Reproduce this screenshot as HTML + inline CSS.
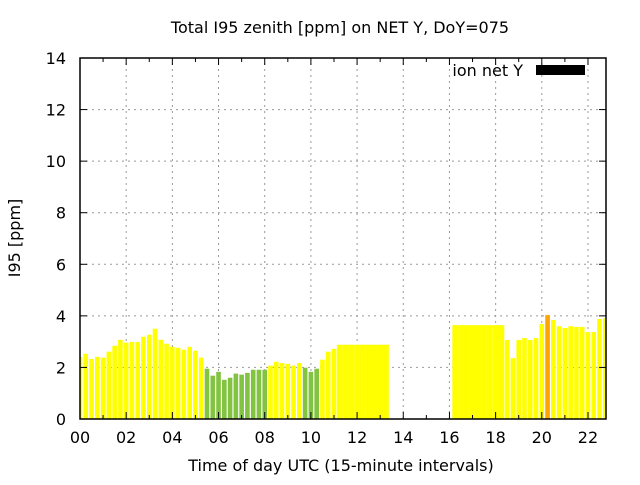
<!DOCTYPE html>
<html><head><meta charset="utf-8"><style>
body{margin:0;background:#fff;width:640px;height:480px;overflow:hidden}
svg{font-family:"DejaVu Sans","Liberation Sans",sans-serif}
</style></head><body>
<svg id="chart" width="640" height="480" viewBox="0 0 640 480" xmlns="http://www.w3.org/2000/svg">
<rect width="640" height="480" fill="#fff"/>
<g id="grid"></g><g id="bars"></g><g id="axes"></g>
<text x="340" y="33" text-anchor="middle" font-size="16">Total I95 zenith [ppm] on NET Y, DoY=075</text>
<text x="341" y="471" text-anchor="middle" font-size="16">Time of day UTC (15-minute intervals)</text>
<text transform="translate(20,238) rotate(-90)" text-anchor="middle" font-size="16">I95 [ppm]</text>
<g>
<text x="523" y="76" text-anchor="end" font-size="16">ion net Y</text>
<rect x="536" y="65" width="49" height="10" fill="#000"/>
</g>
</svg>
<script>
const times=[0,0.25,0.5,0.75,1,1.25,1.5,1.75,2,2.25,2.5,2.75,3,3.25,3.5,3.75,4,4.25,4.5,4.75,5,5.25,5.5,5.75,6,6.25,6.5,6.75,7,7.25,7.5,7.75,8,8.25,8.5,8.75,9,9.25,9.5,9.75,10,10.25,10.5,10.75,11,11.25,11.5,11.75,12,12.25,12.5,12.75,13,13.25,16.25,16.5,16.75,17,17.25,17.5,17.75,18,18.25,18.5,18.75,19,19.25,19.5,19.75,20,20.25,20.5,20.75,21,21.25,21.5,21.75,22,22.25,22.5,22.75];
const values=[2.41,2.53,2.33,2.41,2.38,2.61,2.84,3.07,2.96,2.99,2.99,3.19,3.27,3.5,3.07,2.92,2.8,2.76,2.69,2.8,2.65,2.38,1.95,1.68,1.83,1.52,1.6,1.76,1.72,1.79,1.91,1.91,1.91,2.07,2.22,2.17,2.14,2.07,2.17,1.99,1.83,1.95,2.3,2.61,2.72,2.88,2.88,2.88,2.88,2.88,2.88,2.88,2.88,2.88,3.64,3.64,3.64,3.64,3.64,3.64,3.64,3.64,3.64,3.06,2.36,3.06,3.14,3.06,3.14,3.68,4.03,3.84,3.6,3.53,3.6,3.57,3.57,3.37,3.37,3.88,3.91];
const colorCodes=["y","y","y","y","y","y","y","y","y","y","y","y","y","y","y","y","y","y","y","y","y","y","g","g","g","g","g","g","g","g","g","g","g","y","y","y","y","y","y","g","g","g","y","y","y","y","y","y","y","y","y","y","y","y","y","y","y","y","y","y","y","y","y","y","y","y","y","y","y","y","o","y","y","y","y","y","y","y","y","y","y"];
const filled=[11.25,11.5,11.75,12,12.25,12.5,12.75,13,13.25,16.25,16.5,16.75,17,17.25,17.5,17.75,18,18.25];
const xTicks=["00","02","04","06","08","10","12","14","16","18","20","22"];
const yTicks=["0","2","4","6","8","10","12","14"];
const X0=80,X1=606,Y0=419,Y1=58,PXH=23.09,YMAX=14;
const xs=t=>X0+t*PXH, ys=v=>Y0-v*(Y0-Y1)/YMAX;
const NS="http://www.w3.org/2000/svg";
function mk(tag,attrs,parent){const e=document.createElementNS(NS,tag);for(const k in attrs)e.setAttribute(k,attrs[k]);parent.appendChild(e);return e;}
const grid=document.getElementById('grid'),bars=document.getElementById('bars'),axes=document.getElementById('axes');
const col={y:"#ffff00",g:"#82c341",o:"#ffa500"};
times.forEach((t,i)=>{
  const full=filled.includes(t);
  const w=(full?1.0:0.8)*PXH/4;
  let l=xs(t)-w/2,r=xs(t)+w/2;
  l=Math.max(l,X0);r=Math.min(r,X1);
  const b=mk('rect',{x:l,y:ys(values[i]),width:r-l,height:Y0-ys(values[i]),fill:col[colorCodes[i]]},bars);
  
  
});
xTicks.forEach(s=>{
  const x=xs(parseInt(s,10));
  if(x>X0+1){const g=mk('line',{x1:x,y1:Y0,x2:x,y2:Y1,stroke:"#999","stroke-dasharray":"2,4"},grid);
  }
  mk('line',{x1:x,y1:Y0,x2:x,y2:Y0-7,stroke:"#000"},axes);
  mk('line',{x1:x,y1:Y1,x2:x,y2:Y1+7,stroke:"#000"},axes);
  const tx=mk('text',{x:x,y:443,"text-anchor":"middle","font-size":"16"},axes);
  tx.textContent=s;
  
});
for(let h=1;h<23;h+=2){const x=xs(h);mk('line',{x1:x,y1:Y0,x2:x,y2:Y0-4,stroke:"#000"},axes);mk('line',{x1:x,y1:Y1,x2:x,y2:Y1+4,stroke:"#000"},axes);}
yTicks.forEach(s=>{
  const y=ys(parseFloat(s));
  if(y>Y1+1&&y<Y0-1){const g=mk('line',{x1:X0,y1:y,x2:X1,y2:y,stroke:"#999","stroke-dasharray":"2,4"},grid);
  }
  mk('line',{x1:X0,y1:y,x2:X0+7,y2:y,stroke:"#000"},axes);
  mk('line',{x1:X1,y1:y,x2:X1-7,y2:y,stroke:"#000"},axes);
  const tx=mk('text',{x:66,y:y+6,"text-anchor":"end","font-size":"16"},axes);
  tx.textContent=s;
  
});
const bd=mk('rect',{x:X0,y:Y1,width:X1-X0,height:Y0-Y1,fill:"none",stroke:"#000","stroke-width":"1.5"},axes);


</script>
</body></html>
